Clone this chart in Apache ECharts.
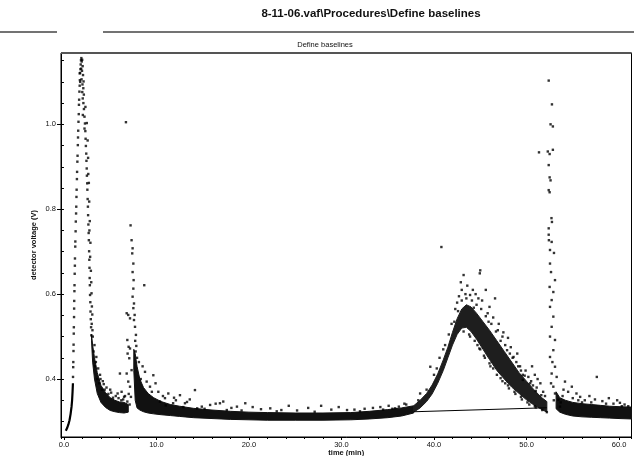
<!DOCTYPE html>
<html>
<head>
<meta charset="utf-8">
<script src="https://cdn.jsdelivr.net/npm/echarts@6/dist/echarts.min.js"></script>
<style>
  html, body { margin: 0; padding: 0; background: #fff; }
  #chart { width: 634px; height: 456px; }
</style>
</head>
<body>
<div id="chart"></div>
<script>
// ---- Axis ranges and tick labels ----
const timeRange = [-0.32, 61.35];
const voltRange = [0.2635, 1.168];
const timeLabels = [0, 10, 20, 30, 40, 50, 60];
const voltLabels = [0.4, 0.6, 0.8, 1.0];

// ---- First peak: rising edge (solid foot), rising dots, top cluster, falling dots ----
const peakOneFoot = [[0.2,0.278],[0.33,0.284],[0.48,0.293],[0.6,0.303],[0.72,0.318],[0.82,0.335],[0.88,0.35],[0.93,0.37],[0.97,0.39]];
const peakOneRise = [[0.98,0.405],[1.0,0.428],[1.01,0.44],[1.03,0.466],[1.04,0.481],[1.06,0.507],[1.07,0.522],[1.09,0.546],[1.1,0.566],[1.11,0.584],[1.13,0.607],[1.14,0.621],[1.16,0.648],[1.18,0.667],[1.19,0.684],[1.22,0.712],[1.23,0.724],[1.26,0.748],[1.28,0.771],[1.31,0.79],[1.33,0.806],[1.35,0.829],[1.37,0.846],[1.4,0.871],[1.42,0.888],[1.45,0.912],[1.47,0.926],[1.5,0.951],[1.52,0.969],[1.54,0.985],[1.57,1.006],[1.6,1.024],[1.62,1.046],[1.64,1.058],[1.67,1.077],[1.7,1.091],[1.72,1.104],[1.75,1.121],[1.78,1.13],[1.81,1.141],[1.84,1.151]];
const peakOneTop = [[1.88,1.156],[1.92,1.148],[1.97,1.152],[1.86,1.131],[1.95,1.126],[2.02,1.137],[1.9,1.106],[2.06,1.116],[2.0,1.094],[2.12,1.101],[1.98,1.076],[2.09,1.085],[2.15,1.07],[2.03,1.061],[1.7,1.12],[1.76,1.1]];
const peakOneFall = [[2.1,1.05],[2.16,1.036],[2.22,1.018],[2.27,1.002],[2.31,0.984],[2.34,0.966],[2.37,0.949],[2.41,0.931],[2.43,0.914],[2.46,0.896],[2.48,0.879],[2.51,0.861],[2.53,0.846],[2.56,0.824],[2.59,0.806],[2.61,0.786],[2.64,0.764],[2.67,0.744],[2.69,0.727],[2.72,0.701],[2.74,0.681],[2.76,0.662],[2.78,0.638],[2.8,0.621],[2.82,0.598],[2.85,0.581],[2.87,0.559],[2.9,0.541],[2.93,0.522],[2.96,0.503],
  [2.32,1.041],[2.47,1.003],[2.56,0.962],[2.61,0.921],[2.69,0.862],[2.73,0.818],[2.79,0.772],[2.86,0.721],[2.83,0.688],[2.91,0.655],[2.95,0.628],[2.98,0.602],[3.02,0.571],[3.06,0.552],[2.22,0.99],[2.04,1.022],[2.63,0.883],[2.75,0.75],[3.0,0.53],[3.08,0.515],[3.12,0.5]];

// ---- Second, smaller peak ----
const peakTwo = [[7.2,0.762],[7.31,0.727],[7.42,0.708],[7.38,0.696],[7.5,0.672],[7.42,0.652],[7.53,0.633],[7.5,0.613],[7.42,0.594],[7.57,0.578],[7.5,0.567],[7.64,0.551],[7.57,0.539],[7.68,0.523],[7.78,0.504],[7.7,0.49],[7.82,0.478],[7.75,0.465],
  [6.78,0.555],[6.95,0.551],[7.14,0.543],[6.85,0.492],[6.99,0.476],[7.14,0.472],[6.88,0.46],[7.06,0.449],[7.31,0.421],[6.78,0.413],[6.95,0.394],[7.14,0.382],[7.24,0.358],[6.85,0.347],[7.0,0.365],[7.1,0.34]];

// ---- Narrow peak near 52.5 min ----
const peakFour = [[52.4,1.103],[52.75,1.047],[52.6,1.0],[52.85,0.995],[52.3,0.936],[52.5,0.93],[52.85,0.94],[52.4,0.904],[52.5,0.875],[52.6,0.868],[52.4,0.845],[52.5,0.84],[52.7,0.779],[52.75,0.77],[52.4,0.755],[52.4,0.74],[52.42,0.727],
  [52.72,0.723],[52.54,0.704],[52.97,0.697],[52.54,0.672],[52.65,0.652],[53.08,0.633],[52.5,0.617],[52.9,0.605],[52.72,0.586],[52.54,0.57],[52.9,0.547],[52.72,0.523],[52.54,0.5],[53.08,0.492],[52.9,0.468],[52.54,0.452],[53.08,0.429],[52.72,0.413],[53.26,0.405],[52.9,0.382],[53.08,0.366],[53.44,0.351],[53.62,0.335],[52.8,0.44],[52.65,0.39],[52.95,0.35]];

// ---- Isolated points ----
const strayPoints = [[6.7,1.005],[8.68,0.621],[40.8,0.711],[51.35,0.934],[57.6,0.405]];

// ---- Scattered points above the baseline ----
const baselineScatter = [[3.3,0.48],[3.5,0.452],[3.45,0.44],[3.7,0.425],[3.9,0.41],[4.2,0.395],[4.6,0.38],[4.4,0.375],[5.1,0.368],[5.6,0.36],[6.05,0.413],[6.23,0.37],[5.9,0.355],[6.4,0.352],[6.6,0.36],
  [8.76,0.417],[9.66,0.409],[8.94,0.394],[9.3,0.382],[10.2,0.37],[11.28,0.366],[12.54,0.362],[14.16,0.374],[13.08,0.343],[16.86,0.343],[17.22,0.347],[10.38,0.347],[10.92,0.355],[11.8,0.343],[14.9,0.335],[15.8,0.339],[18.7,0.335],[19.6,0.343],[16.4,0.342],[18.1,0.332],[20.4,0.334],[22.3,0.331],[24.3,0.337],[26.4,0.332],[27.8,0.337],[29.7,0.334],[31.4,0.328],[33.4,0.332],[35.1,0.337],[13.6,0.352],[12.1,0.35],[15.2,0.33],[21.3,0.329],[23.5,0.327],[25.2,0.326],[28.9,0.328],[30.6,0.327],[32.5,0.33],[34.2,0.334],[36.8,0.342],[9.9,0.39],[8.3,0.4],[8.5,0.43],[7.9,0.45],
  [3.2,0.465],[3.35,0.43],[3.6,0.4],[3.8,0.39],[4.1,0.375],[4.8,0.365],[5.3,0.356],[6.2,0.35],[11.0,0.338],[12.9,0.334],[14.4,0.331],[17.6,0.327],[19.2,0.326],[23.0,0.324],[27.1,0.323],[32.0,0.324],[35.8,0.331],
  [4.3,0.388],[5.0,0.375],[5.8,0.366],[6.5,0.358],[3.95,0.4],[8.1,0.44],[9.5,0.37],[10.7,0.36],[11.9,0.356],[13.3,0.346]];

// ---- Scattered points around the broad peak ----
const broadScatter = [[43.2,0.645],[45.0,0.656],[44.95,0.649],[42.9,0.628],[43.0,0.61],[45.6,0.61],[44.2,0.61],[46.6,0.59],[43.6,0.62],[44.5,0.6],[42.7,0.595],[43.9,0.598],[45.2,0.585],[42.5,0.58],[46.0,0.57],[44.8,0.59],[43.4,0.6],[42.3,0.565],[45.8,0.555],[46.4,0.545],[47.0,0.53],[46.9,0.515],[47.5,0.51],[48.0,0.497],[47.7,0.48],[48.3,0.475],[48.6,0.452],[49.0,0.46],[48.9,0.44],[49.3,0.43],[49.6,0.41],[49.9,0.42],[50.2,0.405],[50.6,0.43],[50.9,0.41],[51.2,0.4],[51.5,0.39],[51.1,0.38],[51.8,0.37],[52.0,0.36],[50.5,0.395],[49.6,0.398],
  [38.5,0.366],[38.3,0.35],[39.6,0.429],[40.0,0.41],[40.6,0.45],[41.2,0.48],[41.6,0.505],[41.9,0.53],[39.2,0.375],[37.0,0.34],[36.2,0.335],[35.5,0.33],[34.5,0.328],[40.3,0.425],[41.0,0.47],
  [43.8,0.505],[44.4,0.49],[45.0,0.47],[45.5,0.45],[46.1,0.43],[46.8,0.41],[47.4,0.395],[48.1,0.378],[48.8,0.365],[49.5,0.352],[50.3,0.34],[51.0,0.333],[51.7,0.327],[52.2,0.322],
  [43.0,0.585],[43.5,0.59],[44.1,0.585],[44.6,0.575],[45.1,0.565],[45.6,0.548],[46.2,0.53],[46.7,0.512],[47.2,0.49],[47.9,0.468],[48.5,0.45],[49.1,0.43],[49.8,0.408],[50.4,0.39],[51.0,0.372],[51.6,0.362],[42.6,0.56],[42.2,0.535],[44.3,0.568],[45.9,0.535],[47.4,0.5],[48.2,0.46],[49.4,0.42],[50.7,0.385],
  [43.2,0.512],[43.9,0.5],[44.7,0.48],[45.4,0.455],[46.4,0.425],[47.2,0.402],[48.0,0.385],[48.7,0.37],[49.4,0.358],[50.1,0.345],[50.9,0.336],[44.9,0.472],[46.0,0.437],[47.7,0.39]];

// ---- Scattered points after the narrow peak ----
const tailScatter = [[54.16,0.394],[54.9,0.382],[55.4,0.366],[55.8,0.358],[54.5,0.37],[56.3,0.35],[57.0,0.345],[58.9,0.355],[60.1,0.344],[58.2,0.348],[59.4,0.342],[60.6,0.34],[55.0,0.355],[56.8,0.36],[53.9,0.36],[61.0,0.336],[59.8,0.35],
  [54.0,0.375],[55.6,0.35],[57.4,0.352],[58.6,0.342],[60.3,0.336],[56.0,0.345],[53.7,0.345]];

// ---- Dense bands of the trace: time, lower edge, upper edge ----
const settleOneTime = [2.98, 3.1, 3.3, 3.6, 4.0, 4.5, 5.0, 5.5, 6.0, 6.5, 6.95];
const settleOneLow  = [0.49, 0.44, 0.4, 0.366, 0.345, 0.333, 0.326, 0.323, 0.321, 0.32, 0.322];
const settleOneHigh = [0.505, 0.48, 0.45, 0.415, 0.385, 0.368, 0.356, 0.35, 0.346, 0.345, 0.34];

const baselineTime = [7.55, 7.7, 7.9, 8.2, 8.6, 9.1, 9.7, 10.5, 11.5, 12.5, 14, 16, 18, 20, 22, 25, 28, 31, 33, 35, 36.5, 37.8];
const baselineLow  = [0.42, 0.35, 0.332, 0.327, 0.323, 0.32, 0.318, 0.316, 0.314, 0.312, 0.309, 0.307, 0.305, 0.304, 0.303, 0.303, 0.303, 0.304, 0.306, 0.309, 0.313, 0.32];
const baselineHigh = [0.47, 0.46, 0.43, 0.4, 0.38, 0.366, 0.356, 0.347, 0.34, 0.336, 0.331, 0.327, 0.324, 0.322, 0.321, 0.32, 0.32, 0.321, 0.324, 0.328, 0.332, 0.337];

const broadTime = [37.8, 38.5, 39.2, 39.8, 40.4, 41.0, 41.5, 42.0, 42.5, 43.0, 43.5, 44.0, 44.6, 45.3, 46.0, 46.8, 47.6, 48.4, 49.2, 50.0, 50.8, 51.6, 52.2];
const broadLow  = [0.322, 0.332, 0.347, 0.365, 0.39, 0.42, 0.45, 0.48, 0.505, 0.52, 0.522, 0.512, 0.494, 0.47, 0.446, 0.42, 0.4, 0.381, 0.366, 0.351, 0.339, 0.329, 0.322];
const broadHigh = [0.337, 0.35, 0.366, 0.386, 0.412, 0.445, 0.475, 0.51, 0.542, 0.565, 0.575, 0.57, 0.555, 0.535, 0.515, 0.49, 0.465, 0.44, 0.415, 0.395, 0.375, 0.357, 0.347];

const tailTime = [53.2, 53.6, 54.2, 55.0, 56.0, 57.0, 58.0, 59.0, 60.0, 61.35];
const tailLow  = [0.33, 0.322, 0.317, 0.313, 0.311, 0.31, 0.309, 0.308, 0.307, 0.306];
const tailHigh = [0.37, 0.356, 0.35, 0.345, 0.342, 0.34, 0.338, 0.336, 0.335, 0.334];

// ---- Baseline drawn under the broad peak ----
const baselineSegment = [[37.8, 0.323], [52.2, 0.3325]];

const FONT = 'Liberation Sans, Arial, sans-serif';
const INK = '#000';

function bandSeries(name, times, low, high, fill) {
  return {
    name: name,
    type: 'custom',
    coordinateSystem: 'cartesian2d',
    xAxisIndex: 0,
    yAxisIndex: 0,
    clip: true,
    silent: true,
    z: 2,
    data: [[times[0], low[0]]],
    renderItem: function (params, api) {
      const pts = [];
      for (let i = 0; i < times.length; i++) pts.push(api.coord([times[i], low[i]]));
      for (let i = times.length - 1; i >= 0; i--) pts.push(api.coord([times[i], high[i]]));
      return {
        type: 'polygon',
        shape: { points: pts, smooth: 0 },
        style: { fill: fill, stroke: fill, lineWidth: 1 }
      };
    }
  };
}

function dotSeries(name, data, size) {
  return {
    name: name,
    type: 'scatter',
    xAxisIndex: 0,
    yAxisIndex: 0,
    symbol: 'rect',
    symbolSize: size || 2.4,
    itemStyle: { color: INK },
    silent: true,
    z: 3,
    data: data
  };
}

const chart = echarts.init(document.getElementById('chart'), null, { renderer: 'canvas' });

chart.setOption({
  animation: false,
  backgroundColor: '#fff',
  grid: {
    left: 61, right: 2.5, top: 53, bottom: 19,
    outerBoundsMode: 'none',
    show: true, borderColor: '#000', borderWidth: 1, backgroundColor: 'transparent'
  },
  graphic: [
    {
      type: 'text', x: 371, y: 14, z: 10,
      style: {
        text: '8-11-06.vaf\\Procedures\\Define baselines',
        font: 'bold 11.5px ' + FONT, fill: '#111',
        align: 'center', verticalAlign: 'middle', textAlign: 'center', textVerticalAlign: 'middle'
      }
    },
    {
      type: 'line', z: 10,
      shape: { x1: 0, y1: 32, x2: 57, y2: 32 },
      style: { stroke: '#444', lineWidth: 1.4 }
    },
    {
      type: 'line', z: 10,
      shape: { x1: 103, y1: 32, x2: 634, y2: 32 },
      style: { stroke: '#444', lineWidth: 1.4 }
    },
    {
      type: 'text', x: 325, y: 45, z: 10,
      style: {
        text: 'Define baselines',
        font: '7.5px ' + FONT, fill: '#111',
        align: 'center', verticalAlign: 'middle', textAlign: 'center', textVerticalAlign: 'middle'
      }
    },
    {
      type: 'line', z: 10,
      shape: { x1: 61, y1: 53, x2: 631.5, y2: 53 },
      style: { stroke: '#555', lineWidth: 2 }
    }
  ],
  xAxis: [
    {
      type: 'value', position: 'bottom',
      min: timeRange[0], max: timeRange[1], splitNumber: 6,
      name: 'time (min)', nameLocation: 'middle', nameGap: 12, nameMoveOverlap: false,
      nameTextStyle: { fontFamily: FONT, fontSize: 7.5, fontWeight: 'bold', color: '#111' },
      axisLine: { show: true, onZero: false, lineStyle: { color: INK, width: 1 } },
      axisTick: { show: true, length: 3, lineStyle: { color: INK } },
      splitLine: { show: false },
      axisLabel: {
        show: true, margin: 4, fontFamily: FONT, fontSize: 7.5, color: '#111',
        showMinLabel: false, showMaxLabel: false,
        formatter: function (v) {
          return timeLabels.some(function (t) { return Math.abs(t - v) < 1e-6; }) ? v.toFixed(1) : '';
        }
      }
    },
    {
      type: 'value', position: 'bottom',
      min: timeRange[0], max: timeRange[1], splitNumber: 31,
      axisLine: { show: false },
      axisTick: { show: true, length: 2, lineStyle: { color: INK } },
      splitLine: { show: false },
      axisLabel: { show: false }
    }
  ],
  yAxis: [
    {
      type: 'value', position: 'left',
      min: voltRange[0], max: voltRange[1], splitNumber: 4,
      name: 'detector voltage (V)', nameLocation: 'middle', nameGap: 23, nameRotate: 90, nameMoveOverlap: false,
      nameTextStyle: { fontFamily: FONT, fontSize: 7.5, fontWeight: 'bold', color: '#111' },
      axisLine: { show: true, onZero: false, lineStyle: { color: INK, width: 1 } },
      axisTick: { show: true, length: 4, lineStyle: { color: INK } },
      splitLine: { show: false },
      axisLabel: {
        show: true, margin: 5, fontFamily: FONT, fontSize: 7.5, color: '#111',
        showMinLabel: false, showMaxLabel: false,
        formatter: function (v) {
          return voltLabels.some(function (t) { return Math.abs(t - v) < 1e-6; }) ? v.toFixed(1) : '';
        }
      }
    },
    {
      type: 'value', position: 'left',
      min: voltRange[0], max: voltRange[1], splitNumber: 18,
      axisLine: { show: false },
      axisTick: { show: true, length: 2.5, lineStyle: { color: INK } },
      splitLine: { show: false },
      axisLabel: { show: false }
    }
  ],
  series: [
    bandSeries('settle', settleOneTime, settleOneLow, settleOneHigh, '#111'),
    bandSeries('baseline', baselineTime, baselineLow, baselineHigh, '#111'),
    bandSeries('broad', broadTime, broadLow, broadHigh, '#1e1e1e'),
    bandSeries('tail', tailTime, tailLow, tailHigh, '#111'),
    {
      name: 'foot', type: 'line', xAxisIndex: 0, yAxisIndex: 0,
      data: peakOneFoot, showSymbol: false, silent: true, z: 3,
      lineStyle: { color: INK, width: 2.2 }
    },
    {
      name: 'baseline segment', type: 'line', xAxisIndex: 0, yAxisIndex: 0,
      data: baselineSegment, showSymbol: false, silent: true, z: 3,
      lineStyle: { color: INK, width: 1.1 }
    },
    dotSeries('peak one rise', peakOneRise),
    dotSeries('peak one top', peakOneTop),
    dotSeries('peak one fall', peakOneFall),
    dotSeries('peak two', peakTwo),
    dotSeries('peak four', peakFour),
    dotSeries('stray', strayPoints),
    dotSeries('baseline scatter', baselineScatter),
    dotSeries('broad scatter', broadScatter),
    dotSeries('tail scatter', tailScatter)
  ]
});
</script>
</body>
</html>
